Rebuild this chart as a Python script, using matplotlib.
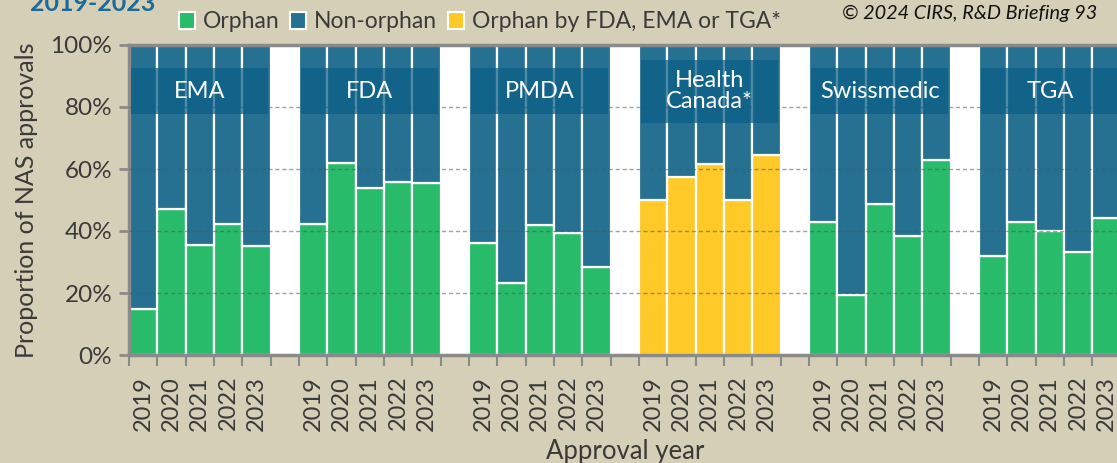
import matplotlib.pyplot as plt
from matplotlib.patches import Patch, Rectangle
import numpy as np

plt.rcParams['font.family'] = ['Lato', 'DejaVu Sans']

agencies = ['EMA', 'FDA', 'PMDA', 'Health\nCanada*', 'Swissmedic', 'TGA']
years = ['2019', '2020', '2021', '2022', '2023']
orphan_pct = {
    'EMA': [14.7, 47.1, 35.5, 42.1, 35.3],
    'FDA': [42.4, 61.8, 53.8, 55.9, 55.6],
    'PMDA': [36.2, 23.1, 41.9, 39.4, 28.5],
    'Health\nCanada*': [50.0, 57.5, 61.7, 50.0, 64.6],
    'Swissmedic': [42.8, 19.2, 48.6, 38.4, 62.8],
    'TGA': [31.9, 42.8, 39.9, 33.2, 44.3],
}
yellow_agency = 'Health\nCanada*'

bg = '#D6CFB7'
green = '#28BB6A'
blue = '#267191'
yellow = '#FFC928'
box_col = '#0B5E86'
txt = '#3A3A3A'

fig = plt.figure(figsize=(11.17, 4.63), dpi=100, facecolor=bg)
ax = fig.add_axes([129 / 1117, 108 / 463, 991.7 / 1117, 310 / 463])
ax.set_facecolor('white')

slot = len(years) + 1
centers = []
for g, name in enumerate(agencies):
    x = g * slot + np.arange(len(years))
    centers.extend(x)
    orph = np.array(orphan_pct[name])
    col = yellow if name == yellow_agency else green
    ax.bar(x, orph, width=1.0, color=col, edgecolor='white', linewidth=1.6, zorder=2)
    ax.bar(x, 100 - orph, bottom=orph, width=1.0, color=blue, edgecolor='white',
           linewidth=1.6, zorder=2)
    # label box
    if name == yellow_agency:
        y0, y1 = 74.9, 95.2
    else:
        y0, y1 = 77.7, 92.6
    ax.add_patch(Rectangle((g * slot - 0.42, y0), 4.84, y1 - y0, facecolor=box_col,
                           alpha=0.72, edgecolor='none', zorder=4))
    ax.text(g * slot + 2, (y0 + y1) / 2, name, ha='center', va='center', color='white',
            fontsize=17, zorder=5, linespacing=1.0)

ax.set_xlim(-0.5, len(agencies) * slot - 1.5)
ax.set_ylim(0, 100)
ax.set_yticks(np.arange(0, 101, 20))
ax.set_yticklabels(['{}%'.format(v) for v in range(0, 101, 20)])
ax.set_xticks(centers)
ax.set_xticklabels(years * len(agencies), rotation=90)
ax.set_xticks(np.arange(-0.5, len(agencies) * slot - 1, 1), minor=True)
ax.tick_params(axis='x', which='major', length=0, pad=15, labelsize=17, labelcolor=txt)
ax.tick_params(axis='x', which='minor', length=8, width=1.5, color='#8A8A8A')
ax.tick_params(axis='y', length=7, width=2, color='#8A8A8A', labelsize=17.5,
               labelcolor=txt, pad=5)

for v in range(20, 100, 20):
    ax.axhline(v, color='#555555', linestyle=(0, (3, 2)), linewidth=1.0, alpha=0.55, zorder=3)

for side in ['left', 'bottom', 'top']:
    ax.spines[side].set_color('#8A8A8A')
    ax.spines[side].set_linewidth(2.5)
ax.spines['right'].set_visible(False)

ax.set_ylabel('Proportion of NAS approvals', fontsize=18, color=txt, labelpad=9)
ax.set_xlabel('Approval year', fontsize=18.5, color=txt, labelpad=6)

handles = [Patch(facecolor=green, edgecolor='white', linewidth=1.5),
           Patch(facecolor=blue, edgecolor='white', linewidth=1.5),
           Patch(facecolor=yellow, edgecolor='white', linewidth=1.5)]
fig.legend(handles, ['Orphan', 'Non-orphan', 'Orphan by FDA, EMA or TGA*'],
           loc='center', bbox_to_anchor=(480 / 1117, 1 - 22 / 463), ncol=3,
           frameon=False, fontsize=16.5, handlelength=0.7, handleheight=0.7,
           handletextpad=0.35, columnspacing=0.45, labelcolor=txt)

fig.text(1097 / 1117, 1 - 13 / 463, '\u00a9 2024 CIRS, R&D Briefing 93', ha='right',
         va='center', fontsize=14.3, style='italic', color='#111111')
fig.text(30 / 1117, 1 - 11 / 463, '2019-2023', ha='left', va='baseline', fontsize=18,
         fontweight='bold', color='#1B6A9A')

fig.savefig('out.png', dpi=100, facecolor=bg)
